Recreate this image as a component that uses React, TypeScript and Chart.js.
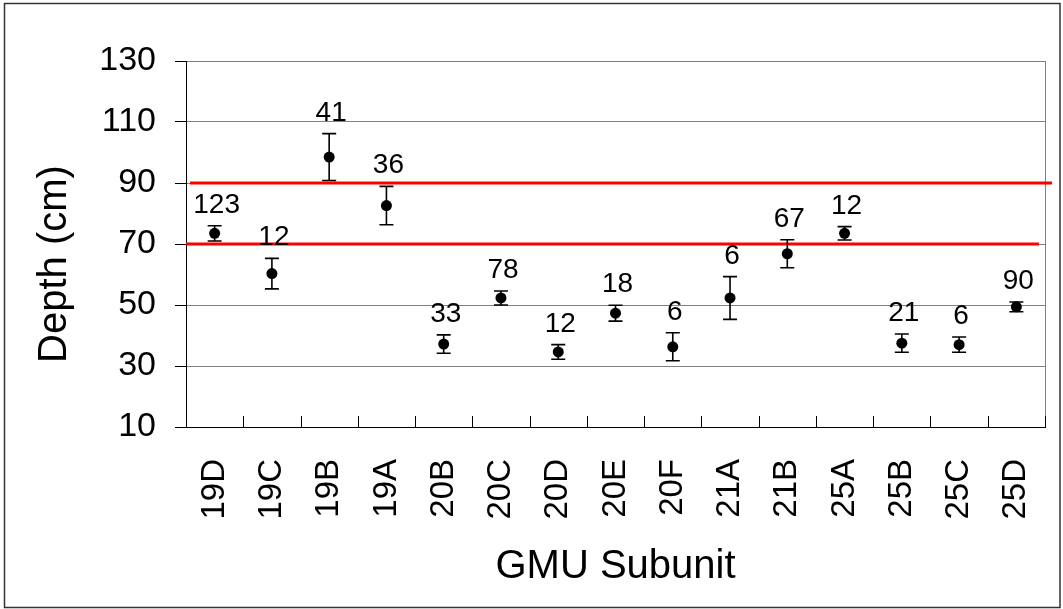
import React, { useEffect, useRef } from 'react';
import { Chart, registerables } from 'chart.js';

Chart.register(...registerables);

// ---- data ----
const subunits = ['19D', '19C', '19B', '19A', '20B', '20C', '20D', '20E', '20F', '21A', '21B', '25A', '25B', '25C', '25D'];
const meanDepth = [73.5, 60.3, 98.5, 82.6, 37.2, 52.3, 34.6, 47.3, 36.3, 52.3, 66.8, 73.5, 37.5, 37.0, 49.4];
const errorBar = [2.5, 5.0, 7.7, 6.3, 3.0, 2.3, 2.4, 2.6, 4.6, 7.0, 4.6, 2.2, 3.0, 2.5, 1.6];
const sampleSizes = [123, 12, 41, 36, 33, 78, 12, 18, 6, 6, 67, 12, 21, 6, 90];
const referenceDepths = [90, 70];
const yMin = 10;
const yMax = 130;
const yStep = 20;
const xTitle = 'GMU Subunit';
const yTitle = 'Depth (cm)';

const FONT = '"Liberation Sans", Arial, Helvetica, sans-serif';

export default function App() {
  const ref = useRef<HTMLCanvasElement>(null);

  useEffect(() => {
    const canvas = ref.current;
    if (!canvas) return;

    const frame = {
      id: 'frame',
      beforeDraw(chart: any) {
        const { ctx, width, height } = chart;
        ctx.save();
        ctx.fillStyle = '#fff';
        ctx.fillRect(0, 0, width, height);
        ctx.strokeStyle = '#333';
        ctx.lineWidth = 1.5;
        ctx.strokeRect(4.5, 3.5, 1055.5, 604);
        ctx.restore();
      },
    };

    const overlays = {
      id: 'overlays',
      beforeDatasetsDraw(chart: any) {
        const { ctx, chartArea: a } = chart;
        const x = chart.scales.x;
        const y = chart.scales.y;
        ctx.save();
        // right frame of plot area
        ctx.strokeStyle = '#808080';
        ctx.lineWidth = 1;
        ctx.beginPath();
        const rx = Math.round(a.right) + 0.5;
        ctx.moveTo(rx, a.top);
        ctx.lineTo(rx, a.bottom);
        ctx.stroke();
        // inward category tick marks
        const w = x.getPixelForValue(1) - x.getPixelForValue(0);
        ctx.strokeStyle = '#000';
        ctx.beginPath();
        for (let i = 0; i <= subunits.length; i++) {
          const bx = Math.round(x.getPixelForValue(i) - w / 2) + 0.5;
          ctx.moveTo(bx, a.bottom);
          ctx.lineTo(bx, a.bottom - 11);
        }
        ctx.stroke();
        // reference lines
        ctx.strokeStyle = '#ff0000';
        ctx.lineWidth = 3;
        referenceDepths.forEach((v, k) => {
          const py = y.getPixelForValue(v);
          ctx.beginPath();
          if (k === 0) {
            ctx.moveTo(a.left + 4, py);
            ctx.lineTo(a.right + 7, py);
          } else {
            ctx.moveTo(a.left, py);
            ctx.lineTo(a.right - 6, py);
          }
          ctx.stroke();
        });
        // error bars
        ctx.strokeStyle = '#000';
        ctx.lineWidth = 1.6;
        meanDepth.forEach((m, i) => {
          const px = x.getPixelForValue(i);
          const top = y.getPixelForValue(m + errorBar[i]);
          const bot = y.getPixelForValue(m - errorBar[i]);
          ctx.beginPath();
          ctx.moveTo(px, top);
          ctx.lineTo(px, bot);
          ctx.moveTo(px - 7, top);
          ctx.lineTo(px + 7, top);
          ctx.moveTo(px - 7, bot);
          ctx.lineTo(px + 7, bot);
          ctx.stroke();
        });
        ctx.restore();
      },
      afterDatasetsDraw(chart: any) {
        const { ctx } = chart;
        const x = chart.scales.x;
        const y = chart.scales.y;
        ctx.save();
        ctx.fillStyle = '#000';
        ctx.font = `28px ${FONT}`;
        ctx.textAlign = 'center';
        ctx.textBaseline = 'alphabetic';
        sampleSizes.forEach((n, i) => {
          const px = x.getPixelForValue(i);
          const top = y.getPixelForValue(meanDepth[i] + errorBar[i]);
          ctx.fillText(String(n), px + 2, top - 13);
        });
        ctx.restore();
      },
      afterDraw(chart: any) {
        const { ctx, chartArea: a } = chart;
        ctx.save();
        ctx.fillStyle = '#000';
        ctx.font = `40px ${FONT}`;
        ctx.textAlign = 'center';
        ctx.textBaseline = 'alphabetic';
        ctx.fillText(xTitle, (a.left + a.right) / 2, 578);
        ctx.translate(66, 264);
        ctx.rotate(-Math.PI / 2);
        ctx.fillText(yTitle, 0, 0);
        ctx.restore();
      },
    };

    const chart = new Chart(canvas, {
      type: 'line',
      data: {
        labels: subunits,
        datasets: [
          {
            data: meanDepth,
            showLine: false,
            pointRadius: 5.5,
            pointHoverRadius: 5.5,
            pointBackgroundColor: '#000',
            pointBorderColor: '#000',
            pointBorderWidth: 0,
            borderColor: '#000',
            backgroundColor: '#000',
          },
        ],
      },
      options: {
        animation: false,
        responsive: false,
        events: [],
        layout: { padding: { top: 61, right: 18, bottom: 0, left: 0 } },
        plugins: {
          legend: { display: false },
          tooltip: { enabled: false },
          title: { display: false },
        },
        scales: {
          x: {
            type: 'category',
            offset: true,
            grid: { display: false, drawTicks: false },
            border: { display: true, color: '#000', width: 1 },
            ticks: {
              autoSkip: false,
              minRotation: 90,
              maxRotation: 90,
              padding: 32,
              color: '#000',
              font: { family: FONT, size: 33 },
            },
            afterFit(s: any) {
              s.height = 182;
              s.paddingLeft = 0;
              s.paddingRight = 0;
            },
          },
          y: {
            min: yMin,
            max: yMax,
            grid: {
              color: (c: any) => (c.tick && c.tick.value === yMin ? 'rgba(0,0,0,0)' : '#808080'),
              tickColor: '#000',
              tickLength: 11,
              lineWidth: 1,
            },
            border: { display: true, color: '#000', width: 1 },
            ticks: {
              stepSize: yStep,
              padding: 19,
              color: '#000',
              font: { family: FONT, size: 34 },
            },
            afterFit(s: any) {
              s.width = 186;
              s.paddingTop = 0;
              s.paddingBottom = 0;
            },
          },
        },
      },
      plugins: [frame, overlays],
    });

    return () => chart.destroy();
  }, []);

  return (
    <div style={{ position: 'fixed', left: 0, top: 0, width: 1063, height: 609, background: '#fff' }}>
      <canvas ref={ref} width={1063} height={609} style={{ display: 'block' }} />
    </div>
  );
}
